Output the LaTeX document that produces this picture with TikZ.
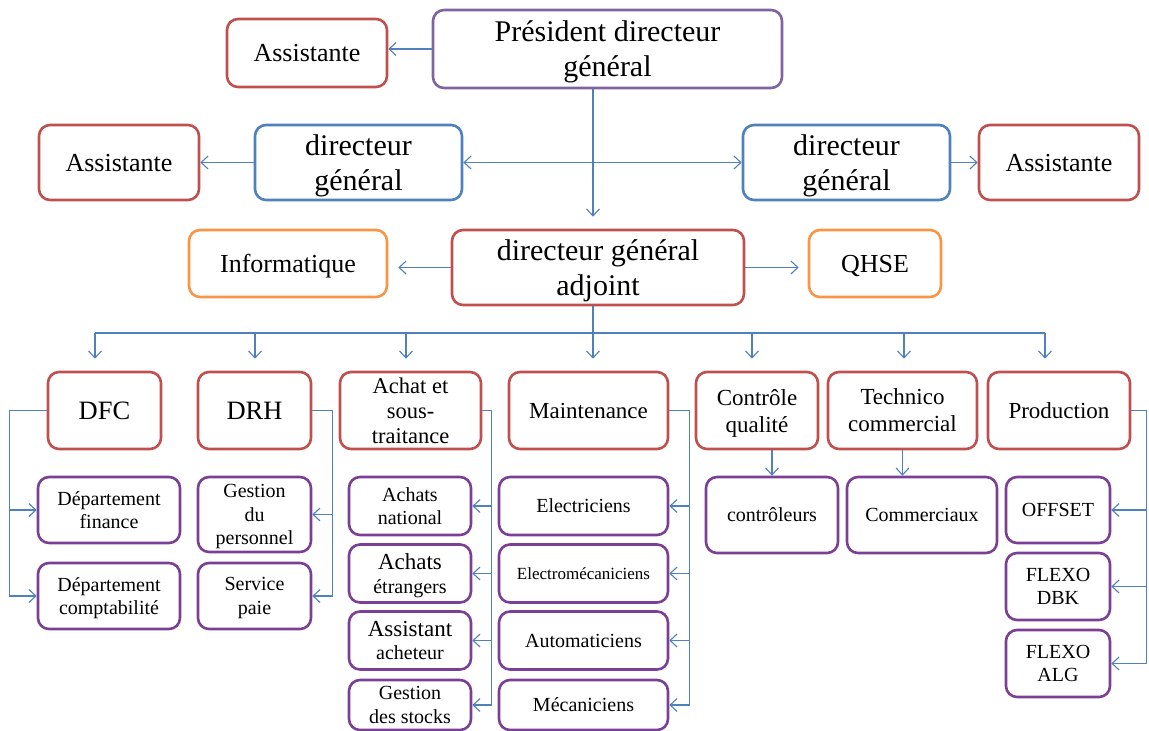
\documentclass[tikz,border=0pt]{standalone}
\usepackage{fontspec}
\setmainfont{Liberation Serif}
\usetikzlibrary{positioning, arrows.meta, calc}

\definecolor{boxred}{HTML}{C0504D}
\definecolor{boxblue}{HTML}{4F81BD}
\definecolor{boxorange}{HTML}{F79646}
\definecolor{chefpurple}{HTML}{8064A2}
\definecolor{subpurple}{HTML}{7B3F96}
\definecolor{lineblue}{HTML}{4F81BD}

\begin{document}
\begin{tikzpicture}[x=1pt, y=-1pt,
    >={Straight Barb[length=7pt,width=13pt]},
    % Node styles
    box/.style={draw, rounded corners=11pt, line width=2.6pt, fill=white, align=center, inner sep=1pt, text depth=0pt},
    chef/.style={box, draw=chefpurple, font=\fontsize{30}{35}\selectfont},
    dirbox/.style={box, draw=boxblue, font=\fontsize{30}{35}\selectfont},
    adjbox/.style={box, draw=boxred, font=\fontsize{30}{35}\selectfont},
    asst/.style={box, draw=boxred, font=\fontsize{26}{30}\selectfont},
    service/.style={box, draw=boxorange, font=\fontsize{26}{30}\selectfont},
    dept/.style={box, draw=boxred, font=\fontsize{23}{27}\selectfont, minimum height=77},
    unit/.style={box, draw=subpurple, font=\fontsize{20}{23.5}\selectfont},
    % Edge styles
    link/.style={->, draw=lineblue, line width=1.1pt},
    bus/.style={draw=lineblue, line width=1.1pt}
]
\useasboundingbox (0,0) rectangle (1149,731);
% Direction
\node[chef, minimum width=349, minimum height=78] (pdg) at (607.5,49) {Président directeur\\général};
\node[asst, minimum width=160, minimum height=68] (asst1) at (307,53) {Assistante};
\node[dirbox, minimum width=207, minimum height=75] (dgl) at (358.5,162.5) {directeur\\général};
\node[dirbox, minimum width=207, minimum height=75] (dgr) at (846.5,162.5) {directeur\\général};
\node[asst, minimum width=160, minimum height=75] (asstl) at (119,162.5) {Assistante};
\node[asst, minimum width=160, minimum height=75] (asstr) at (1059,162.5) {Assistante};
\node[adjbox, minimum width=292, minimum height=75] (dga) at (598,267.5) {directeur général\\adjoint};
\node[service, minimum width=198, minimum height=67] (info) at (288,263.5) {Informatique};
\node[service, minimum width=132, minimum height=67] (qhse) at (875,263.5) {QHSE};
\coordinate (spine) at (593,0);
% Departments
\node[dept, minimum width=113, font=\fontsize{26.5}{30}\selectfont] (dfc) at (104.5,410.5) {DFC};
\node[dept, minimum width=113, font=\fontsize{26.5}{30}\selectfont] (drh) at (254.5,410.5) {DRH};
\node[dept, minimum width=141, font=\fontsize{22.5}{25}\selectfont] (achat) at (410.5,410.5) {Achat et\\sous-\\traitance};
\node[dept, minimum width=159] (maint) at (588.5,410.5) {Maintenance};
\node[dept, minimum width=122] (cq) at (757,410.5) {Contrôle\\qualité};
\node[dept, minimum width=149] (tc) at (902.5,410.5) {Technico\\commercial};
\node[dept, minimum width=142] (prod) at (1059,410.5) {Production};
% Units
\node[unit, minimum width=142, minimum height=66] (fin) at (109,510) {Département\\finance};
\node[unit, minimum width=142, minimum height=66] (compta) at (109,596) {Département\\comptabilité};
\node[unit, minimum width=113, minimum height=75] (gest) at (254.5,514.5) {Gestion\\du\\personnel};
\node[unit, minimum width=113, minimum height=66] (paie) at (254.5,596) {Service\\paie};
\node[unit, minimum width=122, minimum height=58] (an) at (410,506) {Achats\\national};
\node[unit, minimum width=122, minimum height=58] (ae) at (410,573.5) {{\fontsize{23}{26}\selectfont Achats}\\étrangers};
\node[unit, minimum width=122, minimum height=58] (aa) at (410,640.5) {{\fontsize{23}{26}\selectfont Assistant}\\acheteur};
\node[unit, minimum width=122, minimum height=50] (gs) at (410,705) {Gestion\\des stocks};
\node[unit, minimum width=169, minimum height=58] (elec) at (583.5,506) {Electriciens};
\node[unit, minimum width=169, minimum height=58, font=\fontsize{17}{20}\selectfont] (emec) at (583.5,573.5) {Electromécaniciens};
\node[unit, minimum width=169, minimum height=58] (auto) at (583.5,640.5) {Automaticiens};
\node[unit, minimum width=169, minimum height=50] (meca) at (583.5,705) {Mécaniciens};
\node[unit, minimum width=132, minimum height=76] (ctrl) at (772,515) {contrôleurs};
\node[unit, minimum width=150, minimum height=76] (comm) at (922,515) {Commerciaux};
\node[unit, minimum width=104, minimum height=66] (offset) at (1058,510) {OFFSET};
\node[unit, minimum width=104, minimum height=67] (dbk) at (1058,586.5) {FLEXO\\DBK};
\node[unit, minimum width=104, minimum height=67] (alg) at (1058,663.5) {FLEXO\\ALG};
% Direction links
\draw[link] (pdg.west) -- (pdg.west -| asst1.east);
\draw[link] (dgl.west) -- (asstl.east);
\draw[link] (dgr.east) -- (asstr.west);
\draw[link, <->] (dgl.east) -- (dgr.west);
\draw[link, shorten >=12pt] (spine |- pdg.south) -- (spine |- dga.north);
\draw[link, shorten >=10pt] (dga.west) -- (dga.west -| info.east);
\draw[link, shorten >=9pt] (dga.east) -- (dga.east -| qhse.west);
% Bus to departments
\coordinate (busl) at (95,333);
\coordinate (busr) at (1045,333);
\draw[bus] (spine |- dga.south) -- (spine |- busl);
\draw[bus] (busl) -- (busr);
\foreach \n/\x in {dfc/95, drh/255, achat/406, maint/593, cq/752, tc/904, prod/1045}
  \draw[link, shorten >=12pt] (\x,333) -- (\x,0 |- \n.north);
% Department links
\foreach \u in {fin, compta}
  \draw[link] (dfc.west) -- ++(-37,0) |- (\u.west);
\foreach \u in {gest, paie}
  \draw[link] (drh.east) -- ++(20,0) |- (\u.east);
\foreach \u in {an, ae, aa, gs}
  \draw[link] (achat.east) -- ++(9,0) |- (\u.east);
\foreach \u in {elec, emec, auto, meca}
  \draw[link] (maint.east) -- ++(20,0) |- (\u.east);
\foreach \u in {offset, dbk, alg}
  \draw[link] (prod.east) -- ++(15,0) |- (\u.east);
\draw[link] (ctrl.north |- cq.south) -- (ctrl.north);
\draw[link] (tc.south) -- (tc.south |- comm.north);
\end{tikzpicture}
\end{document}
